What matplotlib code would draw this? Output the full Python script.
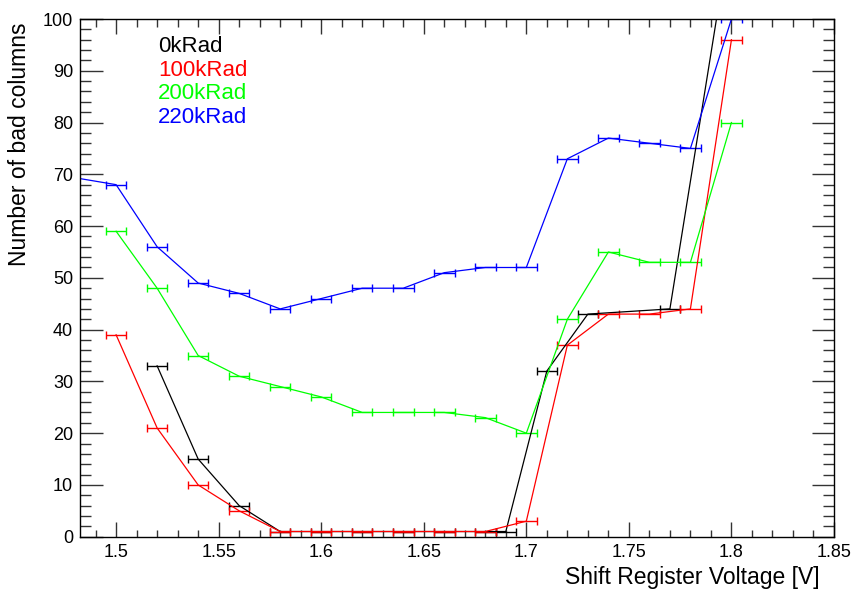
import numpy as np
import matplotlib.pyplot as plt
from matplotlib.ticker import MultipleLocator, FuncFormatter

plt.rcParams['font.family'] = ['Liberation Sans', 'DejaVu Sans']

x_0k = [1.52, 1.54, 1.56, 1.58, 1.60, 1.62, 1.64, 1.66, 1.68, 1.69, 1.71, 1.73, 1.77, 1.80]
y_0k = [33, 15, 6, 1, 1, 1, 1, 1, 1, 1, 32, 43, 44, 118]

x_100k = [1.50, 1.52, 1.54, 1.56, 1.58, 1.60, 1.62, 1.64, 1.66, 1.68, 1.70, 1.72, 1.74, 1.76, 1.78, 1.80]
y_100k = [39, 21, 10, 5, 1, 1, 1, 1, 1, 1, 3, 37, 43, 43, 44, 96]

x_200k = [1.50, 1.52, 1.54, 1.56, 1.58, 1.60, 1.62, 1.64, 1.66, 1.68, 1.70, 1.72, 1.74, 1.76, 1.78, 1.80]
y_200k = [59, 48, 35, 31, 29, 27, 24, 24, 24, 23, 20, 42, 55, 53, 53, 80]

x_220k = [1.47, 1.50, 1.52, 1.54, 1.56, 1.58, 1.60, 1.62, 1.64, 1.66, 1.68, 1.70, 1.72, 1.74, 1.76, 1.78, 1.80]
y_220k = [70, 68, 56, 49, 47, 44, 46, 48, 48, 51, 52, 52, 73, 77, 76, 75, 100]

labels = ['0kRad', '100kRad', '200kRad', '220kRad']
colors = ['k', '#ff0000', '#00ff00', '#0000ff']
x_err = 0.005

fig = plt.figure(figsize=(8.55, 5.89), dpi=100)
ax = fig.add_axes([80 / 855, 1 - 536.7 / 589, 754 / 855, 517.7 / 589])

series = [(x_0k, y_0k), (x_100k, y_100k), (x_200k, y_200k), (x_220k, y_220k)]
for (xs, ys), c in zip(series, colors):
    ax.errorbar(xs, ys, xerr=x_err, fmt='-', color=c, lw=0.9, elinewidth=1.0,
                capsize=2.6, capthick=1.0)

ax.set_xlim(1.4824, 1.85)
ax.set_ylim(0, 100)

ax.xaxis.set_major_locator(MultipleLocator(0.05))
ax.xaxis.set_minor_locator(MultipleLocator(0.01))
ax.yaxis.set_major_locator(MultipleLocator(10))
ax.yaxis.set_minor_locator(MultipleLocator(2))
ax.xaxis.set_major_formatter(FuncFormatter(lambda v, p: f'{v:g}'))
ax.yaxis.set_major_formatter(FuncFormatter(lambda v, p: f'{v:g}'))

ax.tick_params(axis='both', which='both', direction='in', top=True, right=True,
               labelsize=13, width=1.0, color='#333333')
ax.tick_params(axis='x', which='major', length=10.8, pad=5)
ax.tick_params(axis='x', which='minor', length=5.4)
ax.tick_params(axis='y', which='major', length=16.2, pad=5)
ax.tick_params(axis='y', which='minor', length=7.9)
for s in ax.spines.values():
    s.set_linewidth(1.0)

fig.text(820 / 855, 1 - 584 / 589, 'Shift Register Voltage [V]', ha='right',
         va='baseline', fontsize=16.5)
fig.text(20 / 855, 1 - 22 / 589, 'Number of bad columns', rotation=90,
         ha='center', va='top', fontsize=16.5)

for i, (lab, c) in enumerate(zip(labels, colors)):
    fig.text(158 / 855, 1 - (46.7 + 23.5 * i) / 589, lab, color=c,
             ha='left', va='center', fontsize=16)

plt.savefig('out.png', dpi=100)
